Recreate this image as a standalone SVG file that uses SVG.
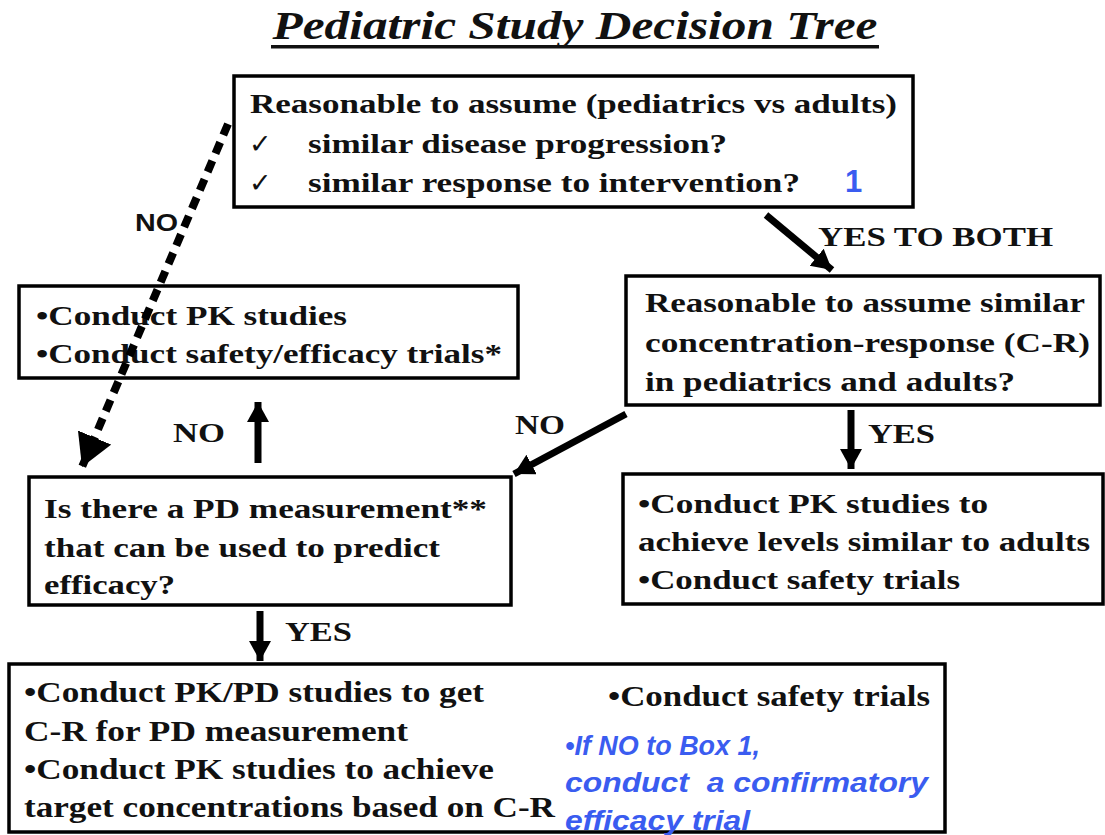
<svg xmlns="http://www.w3.org/2000/svg" width="1105" height="835" viewBox="0 0 1105 835">
<style>
.box{fill:#fff;stroke:#000;stroke-width:3.5}
.t{font-family:"Liberation Serif","Times New Roman",serif;font-weight:bold;font-size:28px;fill:#111}
.c{font-size:30px}
.lbl{font-family:"Liberation Serif","Times New Roman",serif;font-weight:bold;font-size:28px;fill:#111}
.blue{font-family:"Liberation Sans",Arial,sans-serif;font-weight:bold;font-style:italic;font-size:27px;fill:#3a5cf0}
.chk{font-family:"DejaVu Sans",sans-serif;font-size:27px;fill:#111}
.arr{stroke:#000;stroke-width:7;fill:none}
</style>
<defs>
<marker id="ah" markerUnits="userSpaceOnUse" markerWidth="26" markerHeight="26" refX="20" refY="11" orient="auto">
<path d="M0,0 L20,11 L0,22 z" fill="#000"/>
</marker>
<marker id="ahd" markerUnits="userSpaceOnUse" markerWidth="36" markerHeight="40" refX="32" refY="18" orient="auto">
<path d="M0,0 L32,18 L0,36 z" fill="#000"/>
</marker>
</defs>
<rect width="1105" height="835" fill="#fff"/>
<g id="title">
<text x="575" y="39" text-anchor="middle" font-family="Liberation Serif,'Times New Roman',serif" font-weight="bold" font-style="italic" font-size="39" fill="#111" textLength="605" lengthAdjust="spacingAndGlyphs">Pediatric Study Decision Tree</text>
<rect x="271" y="45" width="608" height="3.5" fill="#111"/>
</g>
<g id="box1">
<rect class="box" x="234" y="76" width="679" height="131"/>
<text class="t" x="250" y="113" textLength="647" lengthAdjust="spacingAndGlyphs">Reasonable to assume (pediatrics vs adults)</text>
<text class="chk" x="249" y="153">✓</text>
<text class="t" x="308" y="153" textLength="419" lengthAdjust="spacingAndGlyphs">similar disease progression?</text>
<text class="chk" x="249" y="192">✓</text>
<text class="t" x="308" y="192" textLength="492" lengthAdjust="spacingAndGlyphs">similar response to intervention?</text>
<text x="845" y="192" font-family="Liberation Sans,Arial,sans-serif" font-weight="bold" font-size="31" fill="#3a5cf0">1</text>
</g>
<g id="box2">
<rect class="box" x="19" y="286" width="499" height="92"/>
<text class="t" x="36" y="325" textLength="311" lengthAdjust="spacingAndGlyphs">•Conduct PK studies</text>
<text class="t" x="36" y="363" textLength="466" lengthAdjust="spacingAndGlyphs">•Conduct safety/efficacy trials*</text>
</g>
<g id="box3">
<rect class="box" x="626" y="276" width="474" height="129"/>
<text class="t" x="645" y="312" textLength="440" lengthAdjust="spacingAndGlyphs">Reasonable to assume similar</text>
<text class="t" x="645" y="352" textLength="445" lengthAdjust="spacingAndGlyphs">concentration-response (C-R)</text>
<text class="t" x="645" y="391" textLength="370" lengthAdjust="spacingAndGlyphs">in pediatrics and adults?</text>
</g>
<g id="box4">
<rect class="box" x="29" y="477" width="482" height="128"/>
<text class="t" x="44" y="518" textLength="443" lengthAdjust="spacingAndGlyphs">Is there a PD measurement**</text>
<text class="t" x="44" y="557" textLength="396" lengthAdjust="spacingAndGlyphs">that can be used to predict</text>
<text class="t" x="44" y="594" textLength="131" lengthAdjust="spacingAndGlyphs">efficacy?</text>
</g>
<g id="box5">
<rect class="box" x="623" y="474" width="480" height="130"/>
<text class="t" x="638" y="513" textLength="350" lengthAdjust="spacingAndGlyphs">•Conduct PK studies to</text>
<text class="t" x="638" y="551" textLength="452" lengthAdjust="spacingAndGlyphs">achieve levels similar to adults</text>
<text class="t" x="638" y="589" textLength="322" lengthAdjust="spacingAndGlyphs">•Conduct safety trials</text>
</g>
<g id="box6">
<rect class="box" x="9" y="664" width="936" height="168"/>
<text class="t c" x="24" y="702" textLength="460" lengthAdjust="spacingAndGlyphs">•Conduct PK/PD studies to get</text>
<text class="t c" x="24" y="741" textLength="384" lengthAdjust="spacingAndGlyphs">C-R for PD measurement</text>
<text class="t c" x="24" y="779" textLength="470" lengthAdjust="spacingAndGlyphs">•Conduct PK studies to achieve</text>
<text class="t c" x="24" y="817" textLength="531" lengthAdjust="spacingAndGlyphs">target concentrations based on C-R</text>
<text class="t c" x="608" y="706" textLength="322" lengthAdjust="spacingAndGlyphs">•Conduct safety trials</text>
<text class="blue" x="565" y="755" textLength="195" lengthAdjust="spacingAndGlyphs">•If NO to Box 1,</text>
<text class="blue" x="565" y="792" textLength="363" lengthAdjust="spacingAndGlyphs">conduct&#160; a confirmatory</text>
<text class="blue" x="565" y="830" textLength="185" lengthAdjust="spacingAndGlyphs">efficacy trial</text>
</g>
<g id="connectors">
<line x1="228" y1="124" x2="82" y2="467" stroke="#000" stroke-width="8" stroke-dasharray="12 8" marker-end="url(#ahd)"/>
<line class="arr" x1="766" y1="215" x2="832" y2="270" marker-end="url(#ah)"/>
<line class="arr" x1="626" y1="414" x2="514" y2="474" marker-end="url(#ah)"/>
<line class="arr" x1="851" y1="410" x2="851" y2="469" marker-end="url(#ah)"/>
<line class="arr" x1="258" y1="463" x2="258" y2="402" marker-end="url(#ah)"/>
<line class="arr" x1="260" y1="611" x2="260" y2="661" marker-end="url(#ah)"/>
</g>
<g id="labels">
<text x="135" y="231" font-family="Liberation Sans,Arial,sans-serif" font-weight="bold" font-size="24" fill="#111" textLength="43" lengthAdjust="spacingAndGlyphs">NO</text>
<text class="lbl" x="818" y="246" textLength="235" lengthAdjust="spacingAndGlyphs">YES TO BOTH</text>
<text class="lbl" x="173" y="442" textLength="52" lengthAdjust="spacingAndGlyphs">NO</text>
<text class="lbl" x="515" y="434" textLength="50" lengthAdjust="spacingAndGlyphs">NO</text>
<text class="lbl" x="868" y="443" textLength="67" lengthAdjust="spacingAndGlyphs">YES</text>
<text class="lbl" x="285" y="641" textLength="67" lengthAdjust="spacingAndGlyphs">YES</text>
</g>
</svg>
